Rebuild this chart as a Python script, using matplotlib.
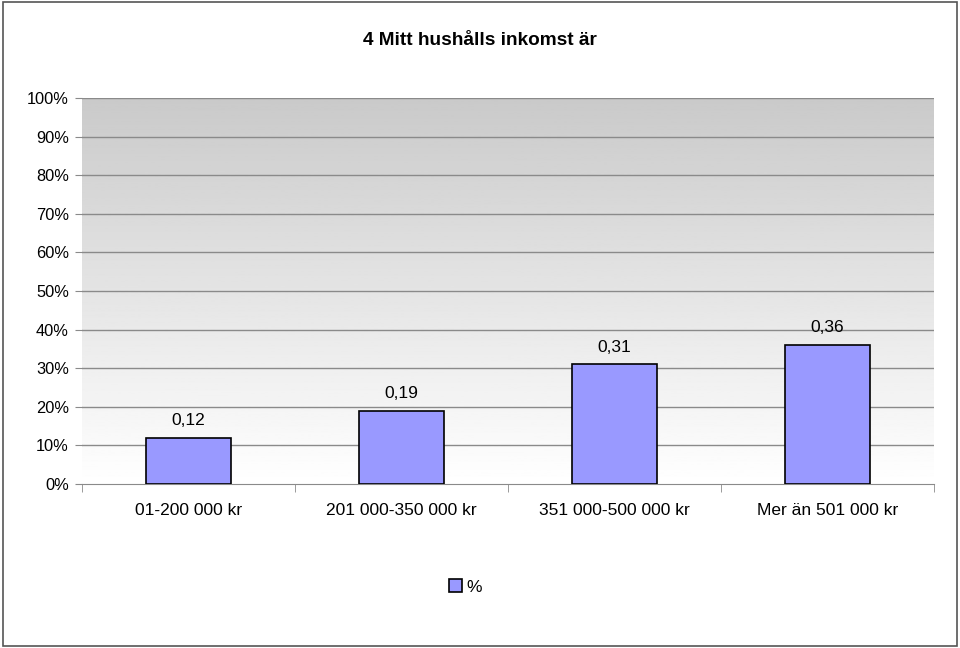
import matplotlib
matplotlib.use('Agg')
import matplotlib.pyplot as plt
import matplotlib.patches as mpatches
import numpy as np

categories = ['01-200 000 kr', '201 000-350 000 kr', '351 000-500 000 kr', 'Mer än 501 000 kr']
values = [0.12, 0.19, 0.31, 0.36]
value_labels = ['0,12', '0,19', '0,31', '0,36']
yticks = [0, 0.1, 0.2, 0.3, 0.4, 0.5, 0.6, 0.7, 0.8, 0.9, 1.0]
ytick_labels = ['0%', '10%', '20%', '30%', '40%', '50%', '60%', '70%', '80%', '90%', '100%']

plt.rcParams['font.family'] = ['Liberation Sans', 'DejaVu Sans']

fig = plt.figure(figsize=(9.6, 6.48), dpi=100)
fig.patch.set_facecolor('white')
ax = fig.add_axes([0.0854, 0.2531, 0.8875, 0.5957])

# gradient background
grad = np.linspace(1.0, 0.79, 256).reshape(-1, 1)
ax.imshow(grad, cmap='gray', vmin=0, vmax=1, aspect='auto',
          extent=(-0.5, len(categories) - 0.5, 0, 1), origin='lower', zorder=0)

x = np.arange(len(categories))
ax.bar(x, values, width=0.4, color='#9999FF', edgecolor='black', linewidth=1.2, zorder=3,
       label='%')
for xi, v, lab in zip(x, values, value_labels):
    ax.text(xi, v + 0.025, lab, ha='center', va='bottom', fontsize=12.5, zorder=4)

ax.set_xlim(-0.5, len(categories) - 0.5)
ax.set_ylim(0, 1)
ax.set_yticks(yticks)
ax.set_yticklabels(ytick_labels, fontsize=11.8)
for y in yticks[1:]:
    ax.axhline(y, color='#8a8a8a', linewidth=1.0, zorder=1)

ax.set_xticks(x)
ax.set_xticklabels(categories, fontsize=12.5)
ax.tick_params(axis='x', length=0, pad=14)
ax.set_xticks(np.arange(-0.5, len(categories)), minor=True)
ax.tick_params(axis='x', which='minor', length=6, color='#8a8a8a')
ax.tick_params(axis='y', length=5, color='#8a8a8a', pad=4.5)

for s in ['top', 'right', 'left']:
    ax.spines[s].set_visible(False)
ax.spines['bottom'].set_color('#8a8a8a')

fig.text(0.5, 0.938, '4 Mitt hushålls inkomst är', ha='center', va='center',
         fontsize=13.7, fontweight='bold')

handle = mpatches.Patch(facecolor='#9999FF', edgecolor='black', linewidth=1.2, label='%')
fig.legend(handles=[handle], loc='center', bbox_to_anchor=(0.485, 0.094), frameon=False,
           fontsize=12.5, handlelength=0.75, handleheight=0.75, handletextpad=0.25)

# outer border
fig.add_artist(mpatches.Rectangle((0.003, 0.003), 0.994, 0.994, transform=fig.transFigure,
                                  fill=False, edgecolor='#555555', linewidth=1.2))

plt.savefig('out.png', dpi=100, facecolor=fig.get_facecolor())
plt.close()
